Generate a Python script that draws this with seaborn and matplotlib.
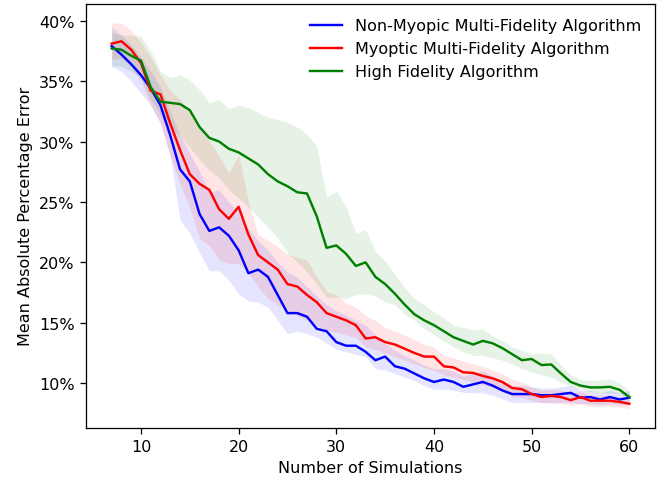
import matplotlib
matplotlib.use("Agg")
import matplotlib.pyplot as plt
from matplotlib.ticker import PercentFormatter
import seaborn as sns
import pandas as pd
import numpy as np

sims = list(range(7, 61))

nonmyopic_mean = [37.9, 37.2, 36.4, 35.5, 34.4, 33.0, 30.5, 27.7, 26.7, 24.0,
                  22.6, 22.9, 22.2, 21.0, 19.1, 19.4, 18.8, 17.3, 15.8, 15.8,
                  15.5, 14.5, 14.3, 13.4, 13.1, 13.1, 12.6, 11.9, 12.2, 11.4,
                  11.2, 10.8, 10.4, 10.1, 10.3, 10.1, 9.7, 9.9, 10.1, 9.8,
                  9.4, 9.1, 9.1, 9.1, 9.0, 9.0, 9.1, 9.2, 8.8, 8.85,
                  8.65, 8.85, 8.65, 8.8]
nonmyopic_low = [36.2, 35.8, 35.0, 34.0, 33.0, 31.5, 28.8, 23.5, 22.4, 20.8,
                 19.3, 19.3, 18.5, 17.4, 16.8, 16.7, 16.3, 15.2, 14.1, 14.3,
                 14.1, 13.8, 13.3, 12.8, 12.6, 12.4, 12.2, 11.2, 11.1, 10.8,
                 10.5, 10.2, 9.8, 9.5, 9.5, 9.4, 9.25, 9.2, 9.2, 9.0,
                 8.7, 8.4, 8.4, 8.4, 8.4, 8.35, 8.4, 8.4, 8.3, 8.3,
                 8.2, 8.3, 8.2, 8.3]
nonmyopic_high = [39.5, 38.8, 38.0, 37.0, 35.8, 34.5, 32.5, 30.5, 29.0, 27.5,
                  25.8, 26.0, 25.0, 24.2, 22.8, 21.8, 21.0, 20.0, 19.2, 18.8,
                  18.0, 17.2, 16.5, 16.0, 15.6, 15.2, 14.8, 14.0, 13.3, 12.7,
                  12.3, 11.9, 11.5, 11.2, 11.2, 11.0, 10.6, 10.8, 11.0, 10.6,
                  10.2, 9.8, 9.8, 9.7, 9.6, 9.6, 9.7, 9.8, 9.4, 9.4,
                  9.2, 9.4, 9.2, 9.4]

myopic_mean = [38.1, 38.3, 37.6, 36.5, 34.2, 33.9, 31.5, 29.3, 27.3, 26.5,
               26.0, 24.4, 23.6, 24.6, 22.3, 20.6, 20.0, 19.4, 18.2, 18.0,
               17.3, 16.7, 15.8, 15.5, 15.2, 14.8, 13.7, 13.8, 13.4, 13.2,
               12.85, 12.5, 12.2, 12.2, 11.4, 11.3, 10.9, 10.85, 10.6, 10.4,
               10.1, 9.6, 9.5, 9.1, 8.85, 8.95, 8.85, 8.6, 8.85, 8.55,
               8.55, 8.55, 8.45, 8.3]
myopic_low = [36.8, 36.9, 36.2, 35.0, 33.0, 31.5, 28.8, 26.5, 24.5, 22.0,
              21.4, 20.2, 19.9, 19.9, 19.1, 18.0, 17.0, 16.5, 16.0, 15.6,
              15.2, 14.8, 14.4, 14.2, 14.0, 13.8, 13.0, 12.8, 12.5, 12.2,
              11.9, 11.6, 11.3, 11.05, 10.7, 10.5, 10.3, 10.1, 9.9, 9.6,
              9.3, 8.9, 8.8, 8.6, 8.4, 8.4, 8.3, 8.2, 8.3, 8.1,
              8.1, 8.1, 8.0, 7.9]
myopic_high = [39.8, 39.8, 39.2, 38.2, 37.0, 35.5, 34.2, 33.5, 32.5, 31.3,
               30.0, 28.8, 27.4, 28.9, 25.0, 22.3, 21.8, 21.3, 20.7, 20.4,
               20.2, 18.8, 17.6, 17.3, 16.6, 16.3, 15.6, 15.2, 14.6, 14.3,
               14.0, 13.6, 13.2, 13.0, 12.3, 12.1, 11.8, 11.6, 11.4, 11.1,
               10.8, 10.3, 10.1, 9.7, 9.4, 9.5, 9.4, 9.2, 9.3, 9.0,
               9.0, 9.0, 8.9, 8.8]

highfid_mean = [37.7, 37.6, 37.1, 36.7, 34.5, 33.3, 33.2, 33.1, 32.6, 31.2,
                30.3, 30.0, 29.4, 29.1, 28.6, 28.1, 27.3, 26.7, 26.3, 25.8,
                25.7, 23.8, 21.2, 21.4, 20.7, 19.7, 20.0, 18.8, 18.2, 17.4,
                16.5, 15.7, 15.2, 14.8, 14.3, 13.8, 13.5, 13.2, 13.5, 13.3,
                12.9, 12.4, 11.9, 12.0, 11.5, 11.55, 10.8, 10.1, 9.8, 9.65,
                9.65, 9.7, 9.45, 8.85]
highfid_low = [36.3, 36.2, 35.8, 35.3, 33.5, 32.2, 31.0, 30.5, 29.5, 28.5,
               27.6, 27.0, 26.0, 25.3, 24.6, 23.7, 22.9, 22.0, 20.8, 20.0,
               19.2, 18.2, 17.1, 17.1, 17.0, 17.3, 17.4, 17.2, 16.7, 16.5,
               15.7, 15.2, 14.5, 14.0, 13.5, 13.0, 12.6, 12.3, 12.3, 12.1,
               11.9, 11.6, 11.2, 10.9, 10.7, 10.5, 10.1, 9.7, 9.5, 9.3,
               9.2, 9.2, 9.1, 8.8]
highfid_high = [39.0, 38.8, 38.8, 38.7, 37.5, 35.8, 35.3, 35.5, 35.1, 34.3,
                33.2, 33.5, 32.7, 33.0, 32.8, 32.4, 32.0, 31.8, 31.6, 31.2,
                30.6, 29.6, 25.4, 25.9, 24.6, 22.4, 22.7, 20.9, 20.1, 19.0,
                17.9, 17.0, 16.5, 15.9, 15.4, 14.8, 14.6, 14.4, 14.5, 13.9,
                13.5, 13.0, 12.7, 12.4, 12.5, 12.4, 11.5, 10.7, 10.3, 10.2,
                10.25, 10.35, 10.0, 9.4]

labels = ["Non-Myopic Multi-Fidelity Algorithm",
          "Myoptic Multi-Fidelity Algorithm",
          "High Fidelity Algorithm"]
colors = ["blue", "red", "green"]

means = [nonmyopic_mean, myopic_mean, highfid_mean]
lows = [nonmyopic_low, myopic_low, highfid_low]
highs = [nonmyopic_high, myopic_high, highfid_high]

df = pd.concat([pd.DataFrame({"sims": sims, "mape": m, "algo": lab})
                for m, lab in zip(means, labels)], ignore_index=True)

DPI = 115
fig = plt.figure(figsize=(670 / DPI, 484 / DPI), dpi=DPI)
ax = fig.add_axes([0.128, 0.114, 0.850, 0.876])

for lo, hi, c in zip(lows, highs, colors):
    ax.fill_between(sims, lo, hi, color=c, alpha=0.1, linewidth=0)

sns.lineplot(data=df, x="sims", y="mape", hue="algo", hue_order=labels,
             palette=dict(zip(labels, colors)), linewidth=1.5, ax=ax)

ax.yaxis.set_major_formatter(PercentFormatter(xmax=100, decimals=0))
ax.set_xlabel("Number of Simulations")
ax.set_ylabel("Mean Absolute Percentage Error")
ax.legend(loc="upper right", frameon=False)

fig.savefig("out.png", dpi=DPI)
